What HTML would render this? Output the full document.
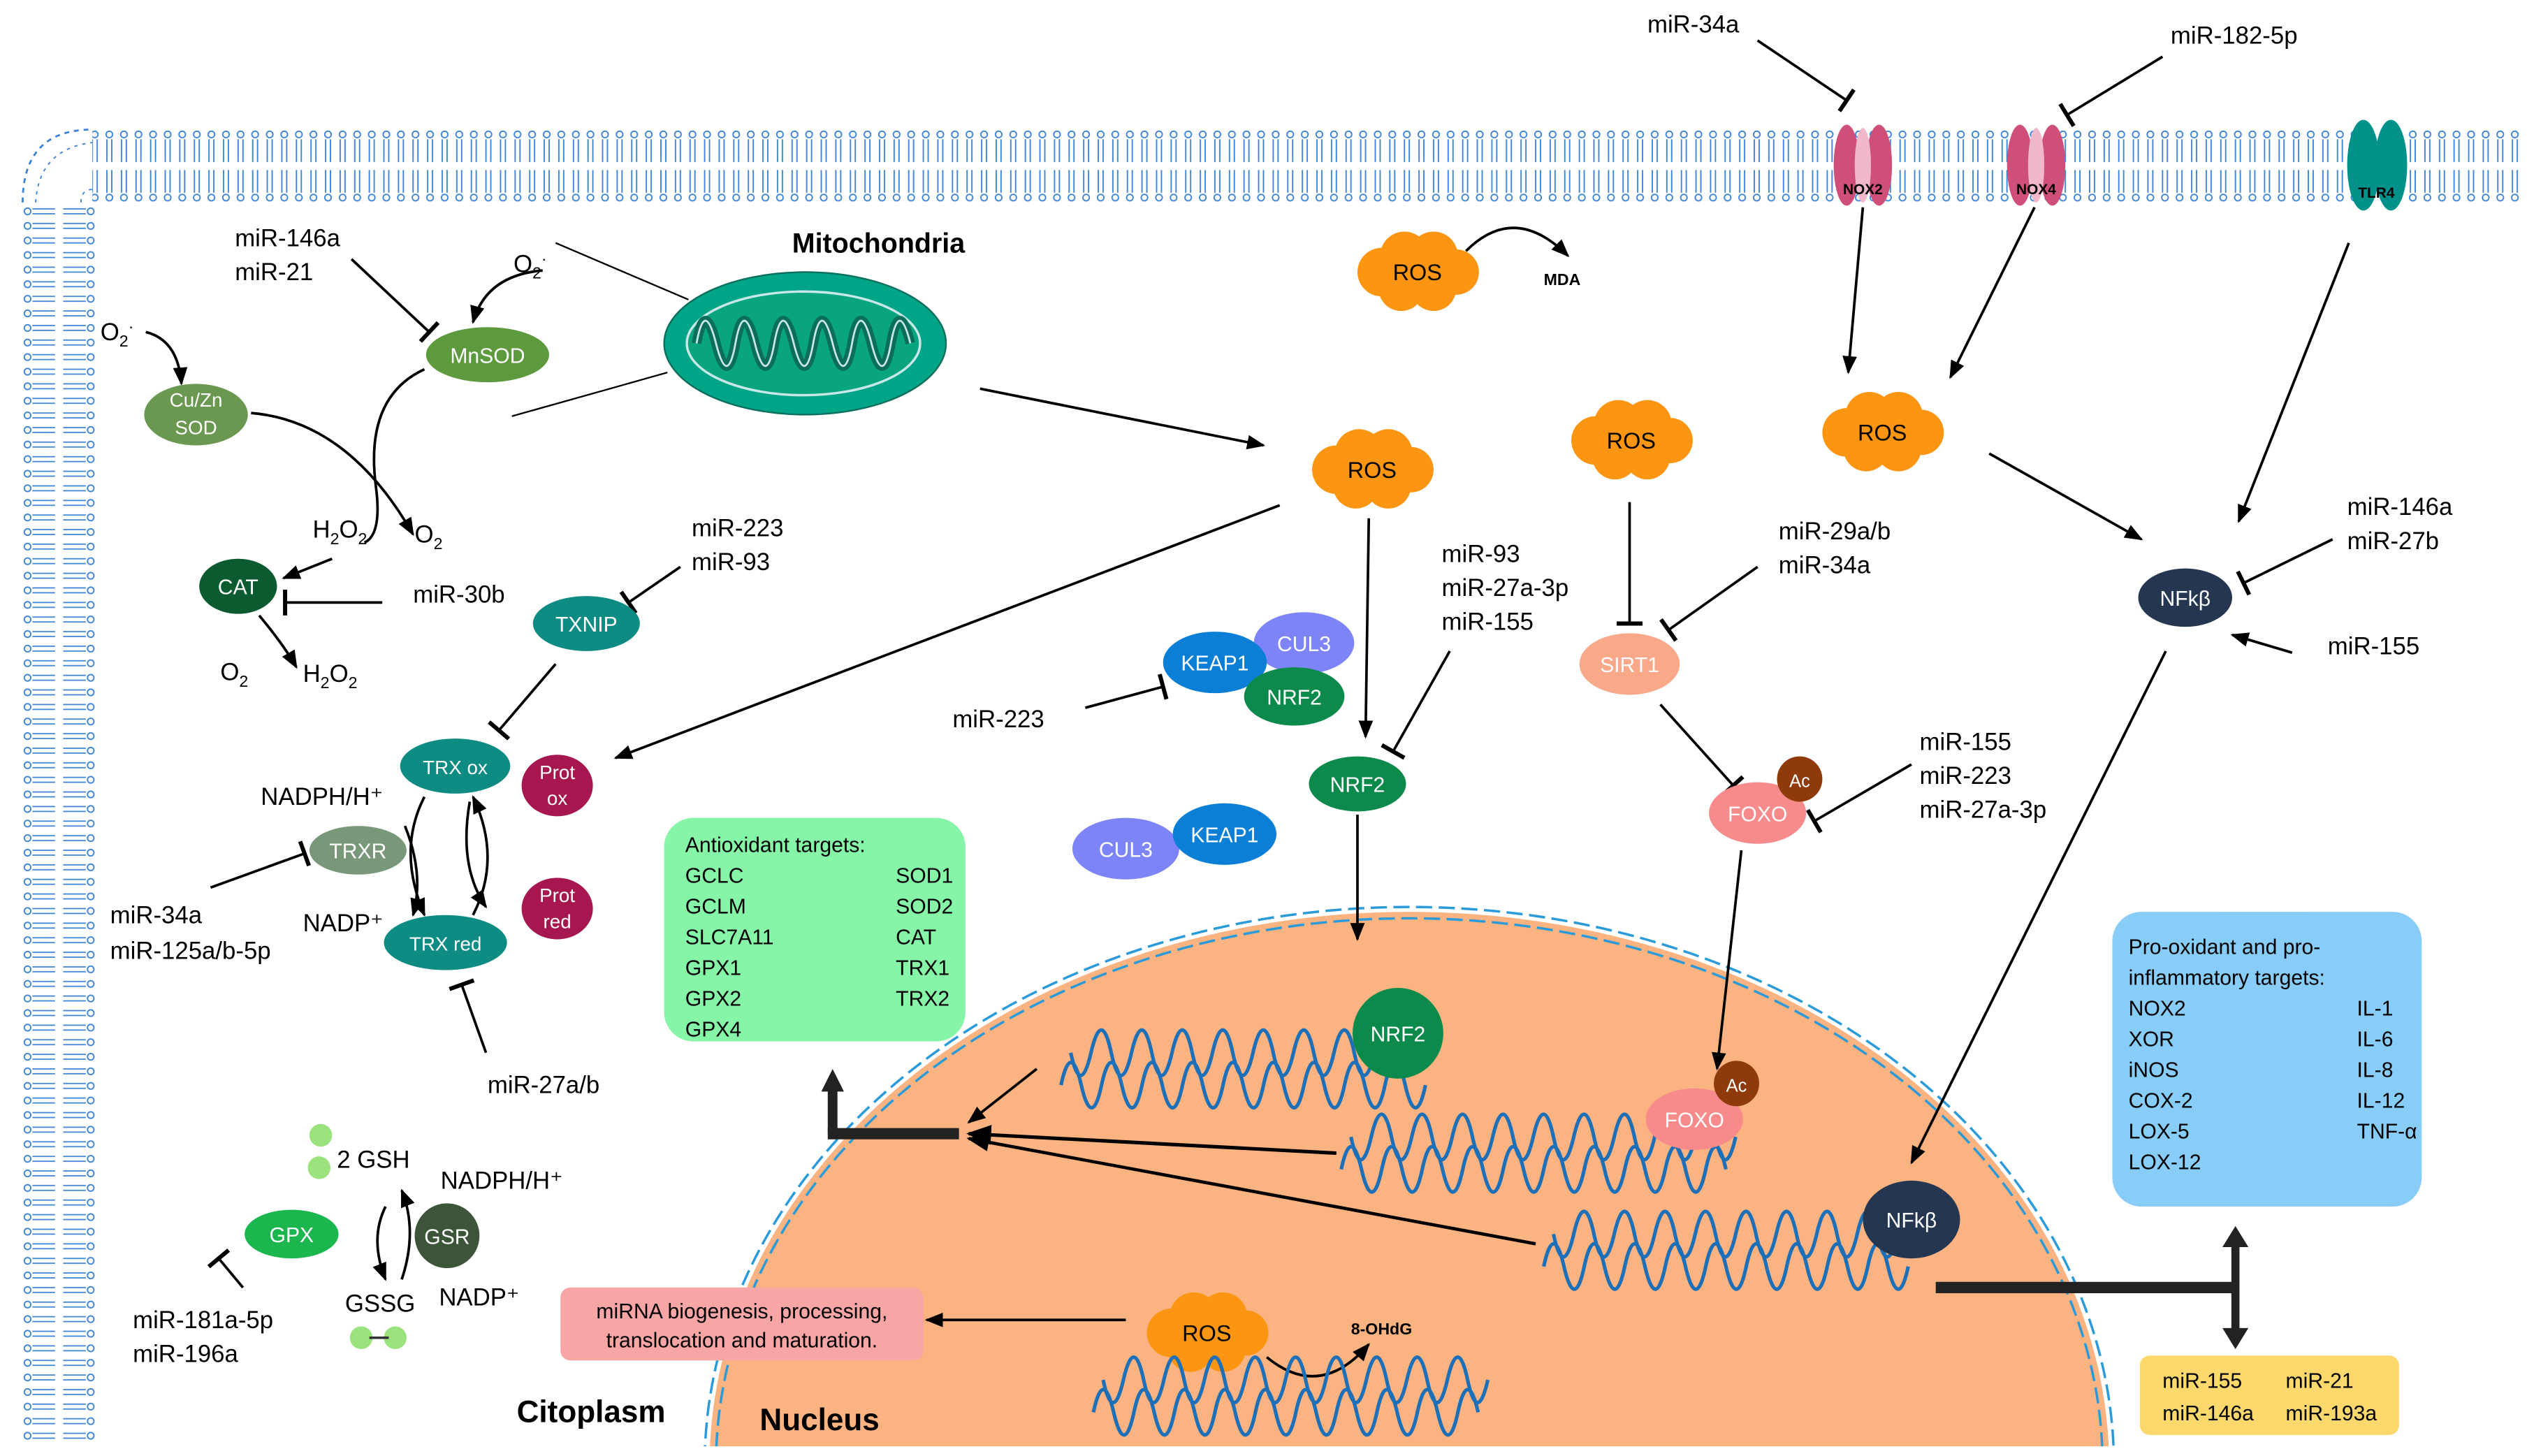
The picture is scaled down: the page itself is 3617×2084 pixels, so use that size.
<!DOCTYPE html>
<html><head><meta charset="utf-8"><style>
html,body{margin:0;padding:0;background:#fff;width:3617px;height:2084px;overflow:hidden;}
svg{display:block;position:absolute;left:0;top:0;}
text{font-family:"Liberation Sans",sans-serif;}
</style></head><body>
<svg width="3617" height="2084" viewBox="0 0 1560 899" preserveAspectRatio="none" xmlns="http://www.w3.org/2000/svg">
<defs>
<pattern id="memT" patternUnits="userSpaceOnUse" x="0" y="80" width="9" height="45">
<g fill="none" stroke="#3b82d6" stroke-width="0.8">
<circle cx="4.5" cy="3" r="2"/><circle cx="4.5" cy="42" r="2"/>
<path d="M3 6V20M6 6V20M3 25V39M6 25V39"/></g></pattern>
<pattern id="memL" patternUnits="userSpaceOnUse" x="14" y="0" width="45" height="9">
<g fill="none" stroke="#3b82d6" stroke-width="0.8">
<circle cx="3" cy="4.5" r="2"/><circle cx="42" cy="4.5" r="2"/>
<path d="M6 3H20M6 6H20M25 3H39M25 6H39"/></g></pattern>
<marker id="ar" viewBox="0 0 10 10" refX="9" refY="5" markerWidth="7" markerHeight="7" orient="auto-start-reverse"><path d="M0 1L10 5L0 9z" fill="#000"/></marker>
<marker id="tb" viewBox="0 0 10 10" refX="5" refY="5" markerWidth="10" markerHeight="10" orient="auto"><path d="M5 0V10" stroke="#000" stroke-width="1.6"/></marker>
<symbol id="cloud" viewBox="-45 -25 90 50" overflow="visible">
<g fill="#fb9512">
<circle cx="-22" cy="0" r="15"/><circle cx="-8" cy="-10" r="15"/><circle cx="10" cy="-10" r="15"/><circle cx="24" cy="0" r="14"/><circle cx="10" cy="10" r="14"/><circle cx="-10" cy="10" r="14"/><ellipse cx="0" cy="0" rx="30" ry="16"/></g>
</symbol>
</defs>

<rect x="57" y="80" width="1500" height="45" fill="url(#memT)"/>
<rect x="14" y="125" width="45" height="768" fill="url(#memL)"/>
<path d="M14 125 Q14 80 57 80" fill="none" stroke="#3b82d6" stroke-width="1.2" stroke-dasharray="3 3"/>
<path d="M22 125 Q24 92 57 88 M50 125 Q50 117 57 117" fill="none" stroke="#3b82d6" stroke-width="0.8" stroke-dasharray="2 3"/>

<clipPath id="cl"><rect x="0" y="0" width="1560" height="893"/></clipPath>
<g clip-path="url(#cl)">
<ellipse cx="870" cy="905" rx="432" ry="342" fill="#fab381"/>
<ellipse cx="870" cy="905" rx="428" ry="338" fill="none" stroke="#2a9ad8" stroke-width="1.5" stroke-dasharray="10 4"/>
<ellipse cx="870" cy="905" rx="435" ry="345" fill="none" stroke="#2a9ad8" stroke-width="1.5" stroke-dasharray="10 4"/>
</g>

<g><ellipse cx="1140" cy="102" rx="8" ry="25" fill="#d04f79"/><ellipse cx="1160" cy="102" rx="8" ry="25" fill="#d04f79"/><ellipse cx="1150" cy="102" rx="5" ry="23" fill="#f0b8c8"/>
<text x="1150" y="120" font-size="9" font-weight="bold" text-anchor="middle">NOX2</text></g>
<g><ellipse cx="1247" cy="102" rx="8" ry="25" fill="#d04f79"/><ellipse cx="1267" cy="102" rx="8" ry="25" fill="#d04f79"/><ellipse cx="1257" cy="102" rx="5" ry="23" fill="#f0b8c8"/>
<text x="1257" y="120" font-size="9" font-weight="bold" text-anchor="middle">NOX4</text></g>
<g><ellipse cx="1459" cy="102" rx="10" ry="28" fill="#00918a"/><ellipse cx="1476" cy="102" rx="10" ry="28" fill="#00918a"/>
<text x="1467" y="122" font-size="9" font-weight="bold" text-anchor="middle">TLR4</text></g>

<g font-size="15" fill="#000">
<text x="1017" y="20">miR-34a</text>
<text x="1340" y="27">miR-182-5p</text>
<text x="145" y="152">miR-146a</text><text x="145" y="173">miR-21</text>
<text x="255" y="372">miR-30b</text>
<text x="427" y="331">miR-223</text><text x="427" y="352">miR-93</text>
<text x="68" y="570">miR-34a</text><text x="68" y="592">miR-125a/b-5p</text>
<text x="301" y="675">miR-27a/b</text>
<text x="82" y="820">miR-181a-5p</text><text x="82" y="841">miR-196a</text>
<text x="588" y="449">miR-223</text>
<text x="890" y="347">miR-93</text><text x="890" y="368">miR-27a-3p</text><text x="890" y="389">miR-155</text>
<text x="1098" y="333">miR-29a/b</text><text x="1098" y="354">miR-34a</text>
<text x="1185" y="463">miR-155</text><text x="1185" y="484">miR-223</text><text x="1185" y="505">miR-27a-3p</text>
<text x="1449" y="318">miR-146a</text><text x="1449" y="339">miR-27b</text>
<text x="1437" y="404">miR-155</text>
<text x="161" y="497">NADPH/H⁺</text><text x="187" y="575">NADP⁺</text>
<text x="208" y="721">2 GSH</text><text x="272" y="734">NADPH/H⁺</text>
<text x="213" y="810">GSSG</text><text x="271" y="806">NADP⁺</text>
<text x="62" y="210">O<tspan font-size="10" dy="4">2</tspan><tspan font-size="10" dy="-9">·</tspan></text>
<text x="317" y="168">O<tspan font-size="10" dy="4">2</tspan><tspan font-size="10" dy="-9">·</tspan></text>
<text x="193" y="332">H<tspan font-size="10" dy="4">2</tspan><tspan dy="-4">O</tspan><tspan font-size="10" dy="4">2</tspan></text>
<text x="256" y="335">O<tspan font-size="10" dy="4">2</tspan></text>
<text x="136" y="420">O<tspan font-size="10" dy="4">2</tspan></text>
<text x="187" y="421">H<tspan font-size="10" dy="4">2</tspan><tspan dy="-4">O</tspan><tspan font-size="10" dy="4">2</tspan></text>
</g>
<text x="489" y="156" font-size="17" font-weight="bold">Mitochondria</text>
<text x="319" y="878" font-size="19" font-weight="bold">Citoplasm</text>
<text x="469" y="883" font-size="19" font-weight="bold">Nucleus</text>
<text x="953" y="176" font-size="10" font-weight="bold">MDA</text>
<text x="834" y="824" font-size="10" font-weight="bold">8-OHdG</text>

<ellipse cx="497" cy="212" rx="87" ry="44" fill="#00a487" stroke="#0b6e5c" stroke-width="1"/>
<ellipse cx="496" cy="212" rx="72" ry="32" fill="#08a57f" stroke="#c8e8e8" stroke-width="1.5"/>
<path d="M430 212 q5 -28 12 0 t12 0 t12 0 t12 0 t12 0 t12 0 t12 0 t12 0 t12 0 t12 0 t12 0" fill="none" stroke="#0b6e5c" stroke-width="6"/>
<path d="M430 212 q5 -28 12 0 t12 0 t12 0 t12 0 t12 0 t12 0 t12 0 t12 0 t12 0 t12 0 t12 0" fill="none" stroke="#c8e8e8" stroke-width="1.2"/>
<line x1="343" y1="150" x2="425" y2="185" stroke="#000" stroke-width="1"/>
<line x1="316" y1="257" x2="412" y2="230" stroke="#000" stroke-width="1"/>

<use href="#cloud" x="830" y="143" width="90" height="50"/>
<use href="#cloud" x="802" y="265" width="90" height="50"/>
<use href="#cloud" x="962" y="247" width="90" height="50"/>
<use href="#cloud" x="1117" y="242" width="90" height="50"/>
<use href="#cloud" x="700" y="798" width="90" height="50"/>
<g font-size="14" text-anchor="middle"><text x="875" y="173">ROS</text><text x="847" y="295">ROS</text><text x="1007" y="277">ROS</text><text x="1162" y="272">ROS</text><text x="745" y="828">ROS</text></g>

<g fill="none" stroke="#000" stroke-width="1.6">
<path d="M905 155 Q935 125 968 158" marker-end="url(#ar)"/>
<path d="M605 240 L780 275" marker-end="url(#ar)"/>
<path d="M1085 25 L1140 62" marker-end="url(#tb)"/>
<path d="M1335 35 L1276 71" marker-end="url(#tb)"/>
<path d="M1150 128 L1141 230" marker-end="url(#ar)"/>
<path d="M1256 128 L1204 233" marker-end="url(#ar)"/>
<path d="M1228 280 L1322 333" marker-end="url(#ar)"/>
<path d="M1450 150 L1382 322" marker-end="url(#ar)"/>
<path d="M1440 333 L1385 360" marker-end="url(#tb)"/>
<path d="M1415 403 L1378 392" marker-end="url(#ar)"/>
<path d="M1337 402 L1180 718" marker-end="url(#ar)"/>
<path d="M1006 310 L1006 385" marker-end="url(#tb)"/>
<path d="M1085 350 L1030 389" marker-end="url(#tb)"/>
<path d="M1025 435 L1070 485" marker-end="url(#tb)"/>
<path d="M1180 472 L1120 507" marker-end="url(#tb)"/>
<path d="M1075 525 L1060 660" marker-end="url(#ar)"/>
<path d="M845 320 L843 455" marker-end="url(#ar)"/>
<path d="M895 402 L860 464" marker-end="url(#tb)"/>
<path d="M838 503 L838 580" marker-end="url(#ar)"/>
<path d="M670 437 L718 424" marker-end="url(#tb)"/>
<path d="M790 312 L380 468" marker-end="url(#ar)"/>
<path d="M640 660 L598 693" marker-end="url(#ar)"/>
<path d="M825 712 L598 700" marker-end="url(#ar)" stroke-width="2.2"/>
<path d="M948 768 L598 703" marker-end="url(#ar)" stroke-width="2"/>
<path d="M695 815 L572 815" marker-end="url(#ar)"/>
<path d="M782 838 Q815 865 845 830" marker-end="url(#ar)"/>
<path d="M217 160 L265 205" marker-end="url(#tb)"/>
<path d="M335 167 Q300 170 292 199" marker-end="url(#ar)"/>
<path d="M90 205 Q110 210 112 237" marker-end="url(#ar)"/>
<path d="M155 255 Q215 260 255 330" marker-end="url(#ar)"/>
<path d="M262 228 Q225 245 232 300 Q236 330 225 335" />
<path d="M205 345 L175 357" marker-end="url(#ar)"/>
<path d="M236 372 L176 372" marker-end="url(#tb)"/>
<path d="M160 380 Q175 398 183 412" marker-end="url(#ar)"/>
<path d="M420 350 L388 372" marker-end="url(#tb)"/>
<path d="M343 410 L308 451" marker-end="url(#tb)"/>
<path d="M130 548 L188 527" marker-end="url(#tb)"/>
<path d="M300 650 L285 608" marker-end="url(#tb)"/>
<path d="M262 492 Q245 525 262 565" marker-end="url(#ar)"/>
<path d="M250 510 Q262 540 255 565" marker-end="url(#ar)"/>
<path d="M292 565 Q310 530 292 492" marker-end="url(#ar)"/>
<path d="M290 495 Q283 535 300 560" marker-end="url(#ar)"/>
<path d="M238 745 Q228 765 238 790" marker-end="url(#ar)"/>
<path d="M248 790 Q258 760 248 735" marker-end="url(#ar)"/>
<path d="M150 795 L135 777" marker-end="url(#tb)"/>
</g>
<path d="M514 700 L514 672" stroke="#222" stroke-width="6" fill="none"/>
<path d="M507 674 L514 660 L521 674z" fill="#222"/>
<path d="M511 700 L592 700" stroke="#222" stroke-width="7"/>
<path d="M1195 795 L1380 795" stroke="#222" stroke-width="7"/>
<path d="M1380 768 L1380 822" stroke="#222" stroke-width="5"/>
<path d="M1372 770 L1380 757 L1388 770z M1372 820 L1380 833 L1388 820z" fill="#222"/>

<g font-size="13" fill="#fff" text-anchor="middle">
<ellipse cx="301" cy="219" rx="38" ry="17" fill="#5c9a3d"/><text x="301" y="224">MnSOD</text>
<ellipse cx="121" cy="256" rx="32" ry="19" fill="#6a9850"/><text x="121" y="251" font-size="12">Cu/Zn</text><text x="121" y="268" font-size="12">SOD</text>
<ellipse cx="147" cy="362" rx="24" ry="17" fill="#0c5a2f"/><text x="147" y="367">CAT</text>
<ellipse cx="362" cy="385" rx="33" ry="17" fill="#0e8c84"/><text x="362" y="390">TXNIP</text>
<ellipse cx="281" cy="473" rx="34" ry="17" fill="#0e8c84"/><text x="281" y="478" font-size="12">TRX ox</text>
<ellipse cx="344" cy="485" rx="22" ry="19" fill="#a5174e"/><text x="344" y="481" font-size="12">Prot</text><text x="344" y="497" font-size="12">ox</text>
<ellipse cx="221" cy="525" rx="30" ry="15" fill="#79987a"/><text x="221" y="530">TRXR</text>
<ellipse cx="275" cy="582" rx="38" ry="17" fill="#0e8c84"/><text x="275" y="587" font-size="12">TRX red</text>
<ellipse cx="344" cy="561" rx="22" ry="19" fill="#a5174e"/><text x="344" y="557" font-size="12">Prot</text><text x="344" y="573" font-size="12">red</text>
<ellipse cx="180" cy="762" rx="29" ry="15" fill="#1bb64e"/><text x="180" y="767">GPX</text>
<circle cx="276" cy="763" r="20" fill="#3c5539"/><text x="276" y="768">GSR</text>
<ellipse cx="805" cy="397" rx="31" ry="19" fill="#7c84f8"/><text x="805" y="402">CUL3</text>
<ellipse cx="750" cy="409" rx="32" ry="19" fill="#0a7fd5"/><text x="750" y="414">KEAP1</text>
<ellipse cx="799" cy="430" rx="31" ry="18" fill="#0b8a4c"/><text x="799" y="435">NRF2</text>
<ellipse cx="695" cy="524" rx="33" ry="19" fill="#7c84f8"/><text x="695" y="529">CUL3</text>
<ellipse cx="756" cy="515" rx="32" ry="19" fill="#0a7fd5"/><text x="756" y="520">KEAP1</text>
<ellipse cx="838" cy="484" rx="30" ry="17" fill="#0b8a4c"/><text x="838" y="489">NRF2</text>
<ellipse cx="1006" cy="410" rx="31" ry="19" fill="#f9a88a"/><text x="1006" y="415">SIRT1</text>
<ellipse cx="1085" cy="502" rx="30" ry="19" fill="#f78a8a"/><text x="1085" y="507">FOXO</text>
<circle cx="1111" cy="481" r="14" fill="#8e3a0a"/><text x="1111" y="486" font-size="11">Ac</text>
<ellipse cx="1349" cy="369" rx="29" ry="18" fill="#253650"/><text x="1349" y="374">NFkβ</text>
</g>
<g fill="#99e27c"><circle cx="198" cy="701" r="7"/><circle cx="197" cy="721" r="7"/><circle cx="223" cy="826" r="7"/><circle cx="244" cy="826" r="7"/></g>
<line x1="228" y1="826" x2="240" y2="826" stroke="#333" stroke-width="1.5"/>

<g fill="none" stroke="#1d6fb8" stroke-width="2.2">
<path d="M655 670 q6 -28 12.5 0 t12.5 0 t12.5 0 t12.5 0 t12.5 0 t12.5 0 t12.5 0 t12.5 0 t12.5 0 t12.5 0 t12.5 0 t12.5 0 t12.5 0 t12.5 0 t12.5 0 t12.5 0 t12.5 0 t12.5 0"/>
<path d="M661 650 q6 28 12.5 0 t12.5 0 t12.5 0 t12.5 0 t12.5 0 t12.5 0 t12.5 0 t12.5 0 t12.5 0 t12.5 0 t12.5 0 t12.5 0 t12.5 0 t12.5 0 t12.5 0 t12.5 0 t12.5 0 t12.5 0"/>
<path d="M828 722 q6 -28 12.5 0 t12.5 0 t12.5 0 t12.5 0 t12.5 0 t12.5 0 t12.5 0 t12.5 0 t12.5 0 t12.5 0 t12.5 0 t12.5 0 t12.5 0 t12.5 0 t12.5 0 t12.5 0 t12.5 0 t12.5 0 t12.5 0"/>
<path d="M834 702 q6 28 12.5 0 t12.5 0 t12.5 0 t12.5 0 t12.5 0 t12.5 0 t12.5 0 t12.5 0 t12.5 0 t12.5 0 t12.5 0 t12.5 0 t12.5 0 t12.5 0 t12.5 0 t12.5 0 t12.5 0 t12.5 0 t12.5 0"/>
<path d="M953 782 q6 -28 12.5 0 t12.5 0 t12.5 0 t12.5 0 t12.5 0 t12.5 0 t12.5 0 t12.5 0 t12.5 0 t12.5 0 t12.5 0 t12.5 0 t12.5 0 t12.5 0 t12.5 0 t12.5 0 t12.5 0 t12.5 0"/>
<path d="M959 762 q6 28 12.5 0 t12.5 0 t12.5 0 t12.5 0 t12.5 0 t12.5 0 t12.5 0 t12.5 0 t12.5 0 t12.5 0 t12.5 0 t12.5 0 t12.5 0 t12.5 0 t12.5 0 t12.5 0 t12.5 0 t12.5 0"/>
<path d="M675 872 q6 -28 12.5 0 t12.5 0 t12.5 0 t12.5 0 t12.5 0 t12.5 0 t12.5 0 t12.5 0 t12.5 0 t12.5 0 t12.5 0 t12.5 0 t12.5 0 t12.5 0 t12.5 0 t12.5 0 t12.5 0 t12.5 0 t12.5 0"/>
<path d="M681 852 q6 28 12.5 0 t12.5 0 t12.5 0 t12.5 0 t12.5 0 t12.5 0 t12.5 0 t12.5 0 t12.5 0 t12.5 0 t12.5 0 t12.5 0 t12.5 0 t12.5 0 t12.5 0 t12.5 0 t12.5 0 t12.5 0 t12.5 0"/>
</g>
<g font-size="13" fill="#fff" text-anchor="middle">
<circle cx="863" cy="638" r="28" fill="#0b8a4c"/><text x="863" y="643">NRF2</text>
<ellipse cx="1046" cy="691" rx="30" ry="19" fill="#f78a8a"/><text x="1046" y="696">FOXO</text>
<circle cx="1072" cy="669" r="14" fill="#8e3a0a"/><text x="1072" y="674" font-size="11">Ac</text>
<ellipse cx="1180" cy="753" rx="30" ry="24" fill="#253650"/><text x="1180" y="758">NFkβ</text>
</g>

<rect x="410" y="505" width="186" height="138" rx="18" fill="#87f5a7"/>
<g font-size="13">
<text x="423" y="526">Antioxidant targets:</text>
<text x="423" y="545">GCLC</text><text x="423" y="564">GCLM</text><text x="423" y="583">SLC7A11</text><text x="423" y="602">GPX1</text><text x="423" y="621">GPX2</text><text x="423" y="640">GPX4</text>
<text x="553" y="545">SOD1</text><text x="553" y="564">SOD2</text><text x="553" y="583">CAT</text><text x="553" y="602">TRX1</text><text x="553" y="621">TRX2</text>
</g>
<rect x="1304" y="563" width="191" height="182" rx="18" fill="#88ccf8"/>
<g font-size="13">
<text x="1314" y="589">Pro-oxidant and pro-</text><text x="1314" y="608">inflammatory targets:</text>
<text x="1314" y="627">NOX2</text><text x="1314" y="646">XOR</text><text x="1314" y="665">iNOS</text><text x="1314" y="684">COX-2</text><text x="1314" y="703">LOX-5</text><text x="1314" y="722">LOX-12</text>
<text x="1455" y="627">IL-1</text><text x="1455" y="646">IL-6</text><text x="1455" y="665">IL-8</text><text x="1455" y="684">IL-12</text><text x="1455" y="703">TNF-α</text>
</g>
<rect x="346" y="795" width="224" height="45" rx="6" fill="#f8a5a5"/>
<g font-size="13" text-anchor="middle"><text x="458" y="814">miRNA biogenesis, processing,</text><text x="458" y="832">translocation and maturation.</text></g>
<rect x="1321" y="837" width="160" height="49" rx="6" fill="#fcd86d"/>
<g font-size="13"><text x="1335" y="857">miR-155</text><text x="1335" y="877">miR-146a</text><text x="1411" y="857">miR-21</text><text x="1411" y="877">miR-193a</text></g>
</svg>
</body></html>
